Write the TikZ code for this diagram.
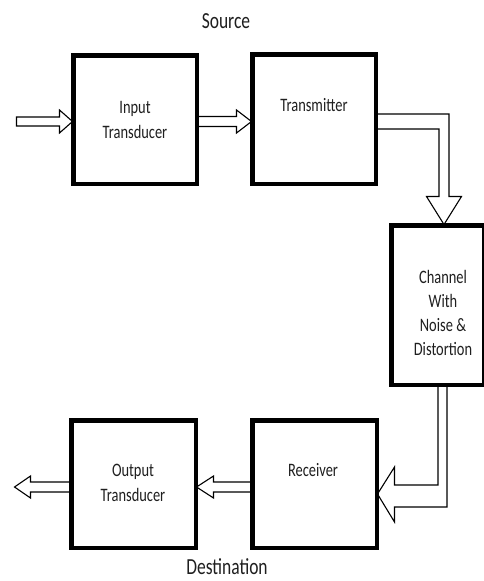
\documentclass[tikz,border=0pt]{standalone}
\usepackage{fontspec}
\setmainfont{Carlito}
\newfontfamily\boxfont[FakeStretch=0.76]{Carlito}
\usetikzlibrary{calc}
\tikzset{
  blk/.style={draw=black, line width=3pt, fill=white, inner sep=0pt},
  arr/.style={draw=black, line width=1.1pt, fill=white, line join=miter},
  txt/.style={anchor=base, inner sep=0pt, text=black!88, font=\boxfont\fontsize{19}{24}\selectfont},
  bigtxt/.style={anchor=base, inner sep=0pt, text=black!88, font=\boxfont\fontsize{23}{28}\selectfont},
}
% horizontal hollow block arrow: #1 start, #2 tip, #3 signed head length, #4 shaft half width, #5 head half width
\newcommand\hblk[5]{%
  \draw[arr] let \p1=(#1), \p2=(#2) in
    (\x1,\y1+#4) -- (\x2+#3,\y1+#4) -- (\x2+#3,\y1+#5) -- (\p2)
    -- (\x2+#3,\y1-#5) -- (\x2+#3,\y1-#4) -- (\x1,\y1-#4) -- cycle;}
\begin{document}
\begin{tikzpicture}[x=1pt,y=-1pt]
\useasboundingbox (0,0) rectangle (484,581);

% boxes
\node[blk, minimum width=122pt, minimum height=127pt] (in)  at (135,119.5) {};
\node[blk, minimum width=122pt, minimum height=128pt] (tx)  at (314,119) {};
\node[blk, minimum width=91pt,  minimum height=158pt] (ch)  at (437.5,305) {};
\node[blk, minimum width=123pt, minimum height=126pt] (rx)  at (314.5,484) {};
\node[blk, minimum width=123pt, minimum height=126pt] (out) at (133.5,484) {};

% texts
\node[bigtxt] (src) at (226,28) {Source};
\node[bigtxt] (dst) at (227,574) {Destination};
\node[txt] (in1) at (135,113) {Input};
\node[txt] (in2) at (135,138) {Transducer};
\node[txt] (tx1) at (314,111) {Transmitter};
\node[txt] (ch1) at (443,283) {Channel};
\node[txt] (ch2) at (443,307) {With};
\node[txt] (ch3) at (443,331) {Noise \&};
\node[txt] (ch4) at (443,355) {Distortion};
\node[txt] (rx1) at (313,476) {Receiver};
\node[txt] (out1) at (133,476) {Output};
\node[txt] (out2) at (133,501) {Transducer};

% connector end points
\coordinate (a1) at ($(in.west)+(0,2)$);
\path (a1) ++(-56,0) coordinate (inp);
\coordinate (a2s) at ($(in.east)+(0,2)$);
\coordinate (a2) at ($(tx.west)+(0,2.5)$);
\coordinate (a5s) at ($(rx.west)+(0,3)$);
\coordinate (a5) at ($(out.east)+(0,3)$);
\coordinate (a6s) at ($(out.west)+(0,3)$);
\path (a6s) ++(-56,0) coordinate (outp);

% horizontal arrows
\hblk{inp}{a1}{-13pt}{4.5pt}{11.5pt}
\hblk{a2s}{a2}{-15pt}{5pt}{11.5pt}
\hblk{a5s}{a5}{17pt}{5pt}{11pt}
\hblk{a6s}{outp}{16pt}{5pt}{11pt}

% transmitter -> channel
\draw[arr] let \p1=($(tx.east)+(0,-5)$), \p2=($(ch.north)+(6.5,0)$) in
  (\p1) -- (\x2+5pt,\y1) -- (\x2+5pt,\y2+28pt) -- (\x2+17.5pt,\y2+28pt) -- (\p2)
  -- (\x2-17.5pt,\y2+28pt) -- (\x2-5pt,\y2+28pt) -- (\x2-5pt,\y1-15pt) -- (\x1,\y1-15pt);

% channel -> receiver
\draw[arr] let \p1=($(ch.south)+(0.5,0)$), \p2=($(rx.east)+(0,10)$) in
  (\p1) -- (\x1,\y2+9pt) -- (\x2+17pt,\y2+9pt) -- (\x2+17pt,\y2+27pt) -- (\p2)
  -- (\x2+17pt,\y2-28pt) -- (\x2+17pt,\y2-13pt) -- (\x1+9pt,\y2-13pt) -- (\x1+9pt,\y1);

% redraw box borders on top of arrow ends
\foreach \b in {in,tx,ch,rx,out}{\draw[line width=3pt] (\b.north west) rectangle (\b.south east);}
\end{tikzpicture}
\end{document}
